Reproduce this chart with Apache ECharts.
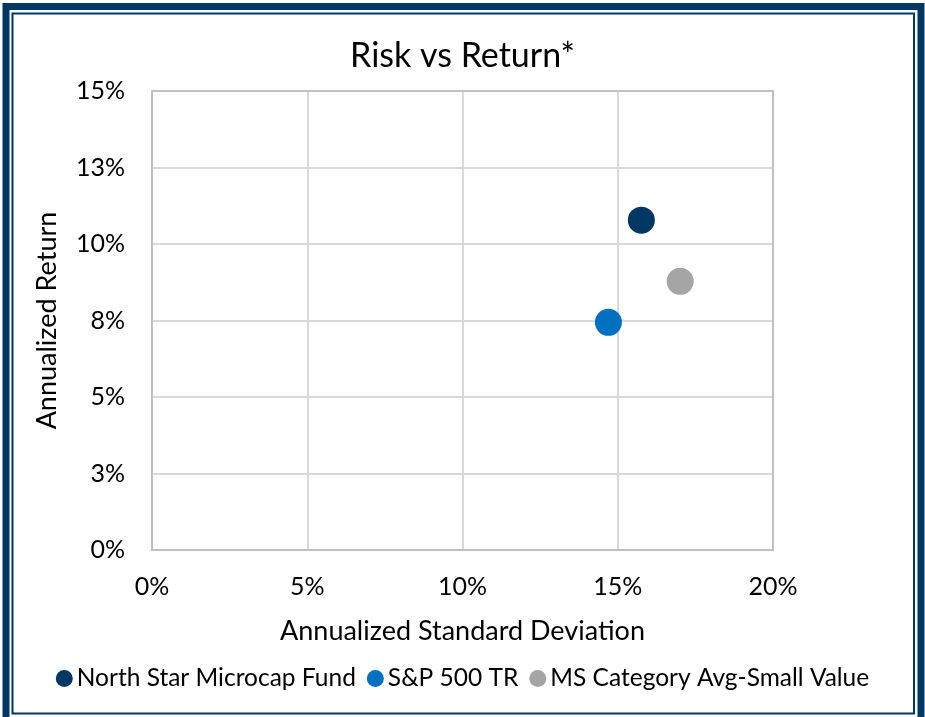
<!DOCTYPE html>
<html>
<head>
<meta charset="utf-8">
<script src="https://cdn.jsdelivr.net/npm/echarts@6/dist/echarts.min.js"></script>
<style>
  html, body { margin: 0; padding: 0; background: #fff; }
  #chart { width: 925px; height: 717px; }
</style>
</head>
<body>
<div id="chart"></div>
<script>
// ---- data (percent) ----
var seriesNames = ['North Star Microcap Fund', 'S&P 500 TR', 'MS Category Avg-Small Value'];
var seriesColors = ['#003865', '#0070c0', '#a5a5a5'];
var stdDev = [15.76, 14.70, 17.01];
var annReturn = [10.78, 7.44, 8.78];

var font = 'Lato, "Open Sans", sans-serif';
var chart = echarts.init(document.getElementById('chart'));

var series = [];
for (var i = 0; i < seriesNames.length; i++) {
    series.push({
        name: seriesNames[i],
        type: 'scatter',
        symbolSize: 27,
        itemStyle: { color: seriesColors[i], opacity: 1 },
        data: [[stdDev[i], annReturn[i]]]
    });
}

var option = {
    backgroundColor: '#fff',
    title: {
        text: 'Risk vs Return*',
        left: 'center',
        top: 34,
        textStyle: { fontFamily: font, fontSize: 34, fontWeight: 'normal', color: '#000' }
    },
    legend: {
        data: seriesNames,
        top: 661,
        left: 'center',
        icon: 'circle',
        itemWidth: 17,
        itemHeight: 17,
        itemGap: 11,
        textStyle: { fontFamily: font, fontSize: 24.5, color: '#000', padding: [0, 0, 0, -1] }
    },
    grid: { left: 152, right: 152, top: 91, bottom: 167 },
    xAxis: {
        type: 'value',
        min: 0, max: 20, interval: 5,
        name: 'Annualized Standard Deviation',
        nameLocation: 'middle',
        nameGap: 68,
        nameTextStyle: { fontFamily: font, fontSize: 27, color: '#000' },
        axisLine: { show: true, lineStyle: { color: '#bfbfbf', width: 2 } },
        axisTick: { show: false },
        axisLabel: { fontFamily: font, fontSize: 25, color: '#000', margin: 24,
            formatter: function (v) { return Math.round(v) + '%'; } },
        splitLine: { show: true, lineStyle: { color: '#d9d9d9', width: 2 } }
    },
    yAxis: {
        type: 'value',
        min: 0, max: 15, interval: 2.5,
        name: 'Annualized Return',
        nameLocation: 'middle',
        nameGap: 91,
        nameTextStyle: { fontFamily: font, fontSize: 27, color: '#000' },
        axisLine: { show: true, lineStyle: { color: '#bfbfbf', width: 2 } },
        axisTick: { show: false },
        axisLabel: { fontFamily: font, fontSize: 25, color: '#000', margin: 27,
            formatter: function (v) { return Math.round(v) + '%'; } },
        splitLine: { show: true, lineStyle: { color: '#d9d9d9', width: 2 } }
    },
    graphic: [
        { type: 'rect', shape: { x: 6, y: 6.5, width: 915, height: 720 },
          style: { fill: 'none', stroke: '#003865', lineWidth: 7 }, silent: true },
        { type: 'rect', shape: { x: 12.5, y: 13.5, width: 901.5, height: 700 },
          style: { fill: 'none', stroke: '#003865', lineWidth: 2 }, silent: true },
        { type: 'rect', shape: { x: 152, y: 91, width: 621, height: 459 },
          style: { fill: 'none', stroke: '#c0c0c0', lineWidth: 2 }, silent: true, z: 1 }
    ],
    series: series
};

chart.setOption(option);
</script>
</body>
</html>
